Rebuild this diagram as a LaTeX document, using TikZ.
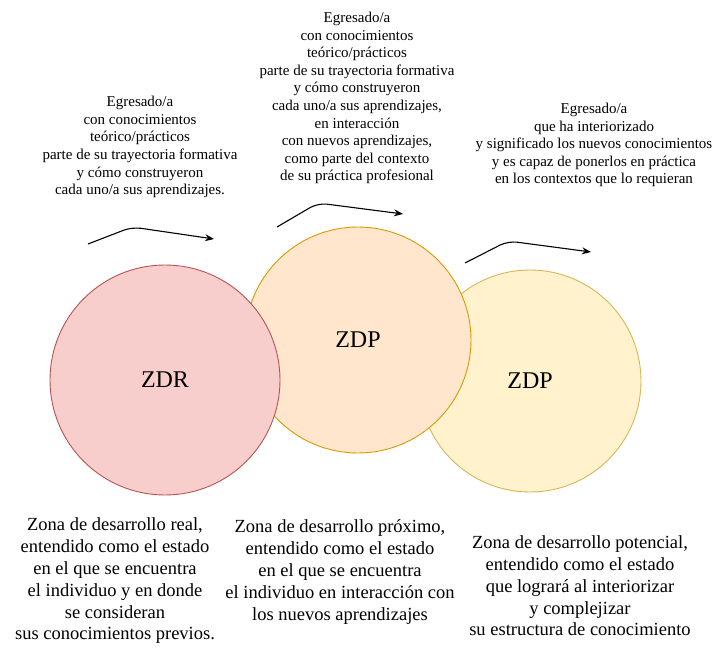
\documentclass[tikz,border=0pt]{standalone}
\usepackage{fontspec}
\setmainfont{Liberation Serif}
\usetikzlibrary{arrows.meta}
\definecolor{realfill}{HTML}{F8CECC}
\definecolor{realdraw}{HTML}{B85450}
\definecolor{proxfill}{HTML}{FFE6CC}
\definecolor{proxdraw}{HTML}{D79B00}
\definecolor{potfill}{HTML}{FFF2CC}
\definecolor{potdraw}{HTML}{D6B656}

\begin{document}
\begin{tikzpicture}[x=1pt,y=-1pt]
        \useasboundingbox (0,0) rectangle (717,652);
        \begin{scope}[every node/.style={circle,draw,line width=0.9pt,inner sep=0pt,font=\fontsize{24}{28}\selectfont}]
            \node[fill=potfill,draw=potdraw,minimum size=222pt] (3) at (530,381) {ZDP};
            \node[fill=proxfill,draw=proxdraw,minimum size=226pt] (2) at (358,340) {ZDP};
            \node[fill=realfill,draw=realdraw,minimum size=230pt] (1) at (165,380) {ZDR};
        \end{scope}
        \begin{scope}[every node/.style={align=center,inner sep=0pt,font=\fontsize{15}{17.6}\selectfont}]
            \node (4) at (140,147) {Egresado/a\\con conocimientos\\teórico/prácticos\\parte de su trayectoria formativa\\y cómo construyeron\\cada uno/a sus aprendizajes.};
            \node (5) at (357,98) {Egresado/a\\con conocimientos\\teórico/prácticos\\parte de su trayectoria formativa\\y cómo construyeron\\cada uno/a sus aprendizajes,\\en interacción\\con nuevos aprendizajes,\\como parte del contexto\\de su práctica profesional};
            \node (6) at (594,145) {Egresado/a\\que ha interiorizado\\y significado los nuevos conocimientos\\y es capaz de ponerlos en práctica\\en los contextos que lo requieran};
        \end{scope}
        \begin{scope}[every node/.style={align=center,inner sep=0pt,font=\fontsize{18.5}{21.8}\selectfont}]
            \node (7) at (115,581) {Zona de desarrollo real,\\entendido como el estado\\en el que se encuentra\\el individuo y en donde\\se consideran\\sus conocimientos previos.};
            \node (8) at (340,572) {Zona de desarrollo próximo,\\entendido como el estado\\en el que se encuentra\\el individuo en interacción con\\los nuevos aprendizajes};
            \node (9) at (580,586) {Zona de desarrollo potencial,\\entendido como el estado\\que logrará al interiorizar\\y complejizar\\su estructura de conocimiento};
        \end{scope}
        % flechas
        \coordinate (a1) at (88,244);
        \coordinate (a2) at (132,227);
        \coordinate (a3) at (214,239);
        \coordinate (b1) at (277,227);
        \coordinate (b2) at (318,203);
        \coordinate (b3) at (403,214);
        \coordinate (c1) at (465,263);
        \coordinate (c2) at (508,241);
        \coordinate (c3) at (591,252);
        \begin{scope}[every path/.style={draw,line width=1.1pt,rounded corners=9pt,-{Stealth[length=9pt,width=7pt]}}]
            \path (a1) -- (a2) -- (a3);
            \path (b1) -- (b2) -- (b3);
            \path (c1) -- (c2) -- (c3);
        \end{scope}
    \end{tikzpicture}
\end{document}
